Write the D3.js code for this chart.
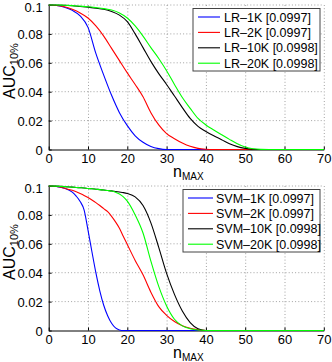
<!DOCTYPE html>
<html><head><meta charset="utf-8">
<script src="https://cdn.jsdelivr.net/npm/d3@7"></script>
<style>
html,body{margin:0;padding:0;background:#fff;}
svg{display:block;}
text{font-family:"Liberation Sans",Arial,Helvetica,sans-serif;}
</style></head>
<body>
<svg id="chart" width="332" height="362"></svg>
<script>
// ---- data ----
const xTicks = [0,10,20,30,40,50,60,70];
const yTicks = [0,0.02,0.04,0.06,0.08,0.1];
const yTickLabels = ["0","0.02","0.04","0.06","0.08","0.1"];

const lrN = [0,2,4,6,8,10,12,14,16,18,20,22,24,26,28,30,32,34,36,38,40,42,44,46,48,50,52,54,56,70];
const lr1K  = [0.1,0.0996,0.0985,0.0963,0.0925,0.0845,0.0665,0.0515,0.0375,0.0255,0.0165,0.0095,0.005,0.0021,0.0006,0,0,0,0,0,0,0,0,0,0,0,0,0,0,0];
const lr2K  = [0.1,0.0997,0.0988,0.097,0.0945,0.091,0.0855,0.0785,0.07,0.0615,0.053,0.045,0.0365,0.0255,0.017,0.011,0.0075,0.0045,0.0022,0.0008,0.0002,0,0,0,0,0,0,0,0,0];
const lr10K = [0.1,0.1,0.0998,0.0995,0.099,0.0985,0.0978,0.097,0.0955,0.093,0.0885,0.08,0.0705,0.061,0.0525,0.045,0.037,0.029,0.0215,0.016,0.0125,0.0095,0.0068,0.004,0.002,0.0008,0.0002,0,0,0];
const lr20K = [0.1,0.1,0.0998,0.0996,0.0992,0.0988,0.0982,0.0975,0.0965,0.0945,0.091,0.0855,0.0785,0.0705,0.063,0.0545,0.045,0.036,0.0285,0.0215,0.017,0.0135,0.0102,0.007,0.004,0.0017,0.0005,0.0001,0,0];

const svmN = [0,2,4,6,7,8,9,10,11,12,13,14,15,16,17,18,19,20,22,24,26,28,30,32,34,36,38,40,70];
const svm1K  = [0.1,0.0996,0.0985,0.0958,0.093,0.0893,0.0835,0.0695,0.0545,0.04,0.0275,0.0175,0.0102,0.005,0.0018,0.0004,0,0,0,0,0,0,0,0,0,0,0,0,0];
const svm2K  = [0.1,0.0996,0.0985,0.097,0.096,0.0948,0.0935,0.092,0.0903,0.0885,0.0865,0.0843,0.0822,0.079,0.0752,0.0708,0.065,0.0595,0.0485,0.0385,0.0265,0.0165,0.0105,0.0062,0.0033,0.0016,0.0006,0,0];
const svm10K = [0.1,0.0999,0.0996,0.0992,0.099,0.0988,0.0986,0.0983,0.0981,0.0978,0.0975,0.0972,0.0969,0.0966,0.0962,0.0958,0.0954,0.0948,0.0925,0.0865,0.0745,0.0575,0.0395,0.025,0.0135,0.0055,0.0012,0,0];
const svm20K = [0.1,0.0999,0.0996,0.0992,0.099,0.0988,0.0986,0.0983,0.0981,0.0978,0.0975,0.0972,0.0969,0.0965,0.0957,0.0945,0.0925,0.0895,0.08,0.0675,0.048,0.0305,0.017,0.0078,0.0032,0.0012,0.0003,0,0];

const lrNames  = ["LR\u20131K [0.0997]","LR\u20132K [0.0997]","LR\u201310K [0.0998]","LR\u201320K [0.0998]"];
const svmNames = ["SVM\u20131K [0.0997]","SVM\u20132K [0.0997]","SVM\u201310K [0.0998]","SVM\u201320K [0.0998]"];
const colors = ["#0000ff","#ff0000","#000000","#00ff00"];

// ---- drawing ----
const svg = d3.select("#chart");
const xLeft = 48.7, xRight = 323.8;

function panel(top, n, seriesVals, names, legendBox) {
  const yTop = top + 5, yBot = top + 149.5;
  const x = d3.scaleLinear().domain([0,70]).range([xLeft, xRight]);
  const y = d3.scaleLinear().domain([0,0.1]).range([yBot, yTop]);
  const g = svg.append("g");

  // grid
  g.append("g").selectAll("line").data(xTicks.filter(d=>d>0)).join("line")
    .attr("x1", d=>x(d)+0.5).attr("x2", d=>x(d)+0.5).attr("y1", yTop).attr("y2", yBot)
    .attr("stroke","#8a8a8a").attr("stroke-width",0.8).attr("stroke-dasharray","1,2.2");
  g.append("g").selectAll("line").data(yTicks.filter(d=>d>0)).join("line")
    .attr("y1", d=>y(d)).attr("y2", d=>y(d)).attr("x1", xLeft).attr("x2", xRight)
    .attr("stroke","#8a8a8a").attr("stroke-width",0.8).attr("stroke-dasharray","1,2.2");

  // axes
  const xa = g.append("g").attr("transform",`translate(0,${yBot})`)
    .call(d3.axisBottom(x).tickValues(xTicks).tickFormat(d3.format("d")).tickSizeInner(-3).tickSizeOuter(0).tickPadding(4));
  const ya = g.append("g").attr("transform",`translate(${xLeft},0)`)
    .call(d3.axisLeft(y).tickValues(yTicks).tickFormat((d,i)=>yTickLabels[i]).tickSizeInner(-3).tickSizeOuter(0).tickPadding(6));
  [xa, ya].forEach(a=>{
    a.selectAll("text").attr("font-size",13).attr("fill","#000").attr("font-family","Liberation Sans, Arial, sans-serif");
    a.select(".domain").attr("stroke","#000").attr("stroke-width",1);
    a.selectAll(".tick line").attr("stroke","#000");
  });
  ya.selectAll("text").attr("dy", d => d === 0.1 ? "0.5em" : "0.38em");

  // lines
  const line = d3.line().x(d=>x(d[0])).y(d=>y(d[1])).curve(d3.curveMonotoneX);
  seriesVals.forEach((vals,i)=>{
    g.append("path").datum(n.map((v,j)=>[v, vals[j]]))
      .attr("d", line).attr("fill","none").attr("stroke", colors[i]).attr("stroke-width",1.1);
  });

  // axis labels
  const yl = g.append("text").attr("transform",`translate(14.5,${top+99}) rotate(-90)`)
    .attr("font-size",16).attr("fill","#000");
  yl.append("tspan").text("AUC");
  yl.append("tspan").attr("font-size",11).attr("dy",3.5).text("10%");
  const xl = g.append("text").attr("x",173).attr("y",top+177).attr("font-size",16).attr("fill","#000");
  xl.append("tspan").text("n");
  xl.append("tspan").attr("font-size",10).attr("dy",3).text("MAX");

  // legend
  const lg = g.append("g");
  lg.append("rect").attr("x",legendBox.x).attr("y",top+8.5).attr("width",320-legendBox.x).attr("height",62.5)
    .attr("fill","#fff").attr("stroke","#444").attr("stroke-width",1);
  names.forEach((nm,i)=>{
    const cy = top + 17 + i*15.4;
    lg.append("line").attr("x1",legendBox.lx1).attr("x2",legendBox.lx2).attr("y1",cy).attr("y2",cy)
      .attr("stroke",colors[i]).attr("stroke-width",1.1);
    lg.append("text").attr("x",legendBox.tx).attr("y",cy).attr("dy","0.36em")
      .attr("font-size",12.5).attr("fill","#000").text(nm);
  });
}

panel(0, lrN, [lr1K, lr2K, lr10K, lr20K], lrNames, {x:193, lx1:198, lx2:220, tx:224});
panel(181, svmN, [svm1K, svm2K, svm10K, svm20K], svmNames, {x:183, lx1:188, lx2:213, tx:216});
</script>
</body></html>
